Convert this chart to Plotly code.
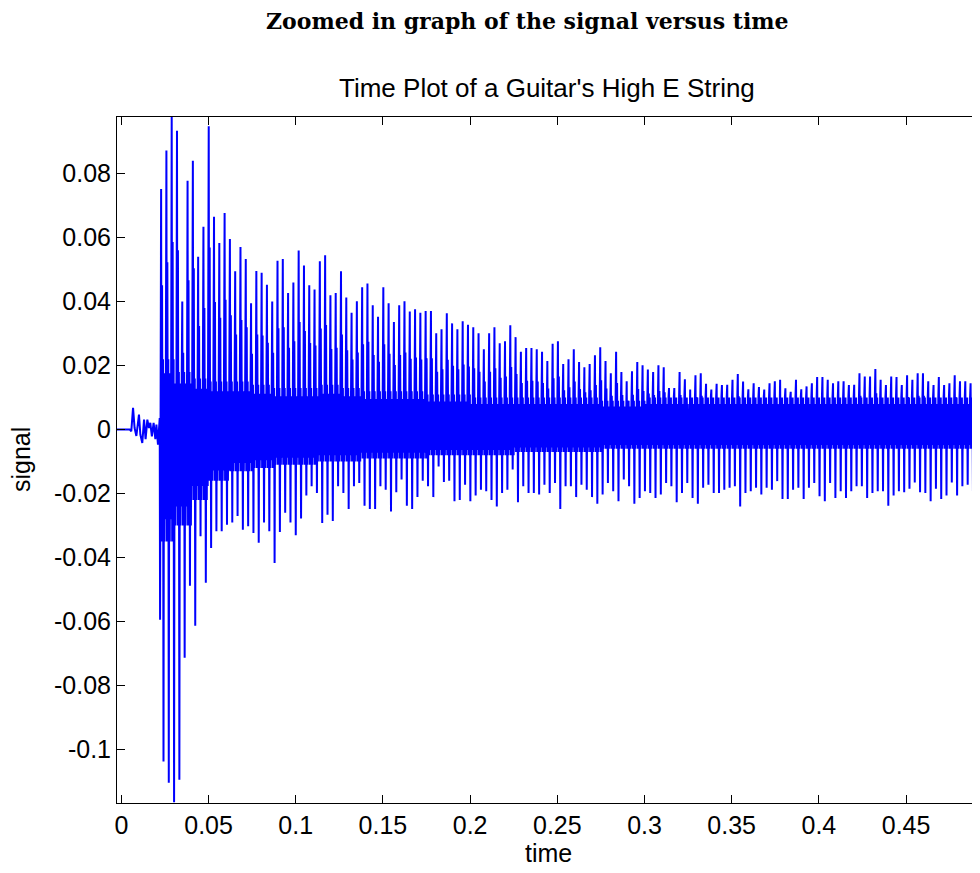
import plotly.graph_objects as go

# ---------------- data ----------------
# quiet lead-in before the pluck (time in s, signal)
onset_t = [-0.0025, 0.0048, 0.0057, 0.0067, 0.0076, 0.0086, 0.0101, 0.0109, 0.0120,
           0.0130, 0.0139, 0.0149, 0.0158, 0.0166, 0.0175, 0.0185, 0.0195, 0.0201,
           0.0210, 0.0220, 0.0222]
onset_y = [0.0, 0.0, -0.0005, 0.0068, 0.0005, -0.0020, 0.0047, -0.0016, -0.0042,
           0.0031, -0.0030, 0.0031, 0.0005, 0.0021, -0.0021, 0.0021, -0.0030, 0.0016,
           -0.0047, 0.0036, -0.0594]

# start of the plucked part and fundamental period of the high E string (~329.6 Hz)
attack_t = 0.0228
period = 0.003034

# positive peak of each period
top_peaks = [
    0.0752, 0.0872, 0.0977, 0.0934, 0.0400, 0.0778, 0.0840, 0.0540, 0.0634, 0.0948,
    0.0665, 0.0583, 0.0677, 0.0596, 0.0495, 0.0571, 0.0533, 0.0395, 0.0496, 0.0490,
    0.0453, 0.0400, 0.0528, 0.0533, 0.0427, 0.0460, 0.0560,
    0.0513, 0.0451, 0.0438, 0.0526, 0.0545, 0.0420, 0.0427, 0.0495, 0.0413, 0.0365,
    0.0401, 0.0445, 0.0457, 0.0389, 0.0353, 0.0445, 0.0395, 0.0336, 0.0389, 0.0401,
    0.0369, 0.0376, 0.0365, 0.0371, 0.0371, 0.0301, 0.0314, 0.0364, 0.0332, 0.0314,
    0.0339, 0.0328, 0.0320, 0.0301, 0.0251, 0.0301, 0.0320, 0.0270, 0.0276, 0.0326,
    0.0289, 0.0243,
    0.0255, 0.0255, 0.0251, 0.0243, 0.0214, 0.0268, 0.0276, 0.0205, 0.0220, 0.0251,
    0.0211, 0.0195, 0.0205, 0.0232, 0.0257, 0.0214, 0.0176, 0.0243, 0.0180, 0.0151,
    0.0182, 0.0211, 0.0201, 0.0188, 0.0180, 0.0201, 0.0195, 0.0130, 0.0130, 0.0180,
    0.0157, 0.0125, 0.0170, 0.0176, 0.0143, 0.0125, 0.0143, 0.0139, 0.0140, 0.0156,
    0.0174,
    0.0150, 0.0126, 0.0145, 0.0133, 0.0125, 0.0145, 0.0151, 0.0156, 0.0129, 0.0118,
    0.0156, 0.0126, 0.0135, 0.0145, 0.0164, 0.0164, 0.0156, 0.0145, 0.0151, 0.0151,
    0.0139, 0.0140, 0.0176, 0.0166, 0.0166, 0.0189, 0.0156, 0.0139, 0.0166, 0.0164,
    0.0139, 0.0170, 0.0156, 0.0176, 0.0176, 0.0151, 0.0139, 0.0164, 0.0139, 0.0145,
    0.0170, 0.0151, 0.0151, 0.0145, 0.0166, 0.0145,
]

# negative peak of each period
bottom_peaks = [
    -0.1037, -0.1104, -0.1165, -0.1094, -0.0713, -0.0488, -0.0613, -0.0333, -0.0479, -0.0370,
    -0.0318, -0.0318, -0.0297, -0.0290, -0.0270, -0.0313, -0.0302, -0.0323, -0.0354, -0.0290,
    -0.0318, -0.0417, -0.0320, -0.0260, -0.0290, -0.0330,
    -0.0278, -0.0206, -0.0177, -0.0198, -0.0292, -0.0266, -0.0286, -0.0177, -0.0198, -0.0248,
    -0.0177, -0.0167, -0.0238, -0.0248, -0.0248, -0.0177, -0.0188, -0.0256, -0.0196, -0.0156,
    -0.0238, -0.0248, -0.0211, -0.0160, -0.0177, -0.0211, -0.0115, -0.0164, -0.0160, -0.0224,
    -0.0220, -0.0172, -0.0224, -0.0206, -0.0188, -0.0193, -0.0220, -0.0240, -0.0198, -0.0188,
    -0.0125, -0.0227,
    -0.0177, -0.0198, -0.0198, -0.0203, -0.0172, -0.0198, -0.0167, -0.0248, -0.0177, -0.0177,
    -0.0211, -0.0172, -0.0188, -0.0211, -0.0232, -0.0203, -0.0167, -0.0193, -0.0224, -0.0156,
    -0.0177, -0.0232, -0.0214, -0.0193, -0.0198, -0.0214, -0.0203, -0.0167, -0.0177, -0.0227,
    -0.0198, -0.0167, -0.0214, -0.0232, -0.0182, -0.0172, -0.0198, -0.0198, -0.0188, -0.0182,
    -0.0177, -0.0240,
    -0.0198, -0.0193, -0.0182, -0.0203, -0.0182, -0.0188, -0.0161, -0.0217, -0.0217,
    -0.0188, -0.0182, -0.0217, -0.0182, -0.0167, -0.0208, -0.0224, -0.0167, -0.0214, -0.0193,
    -0.0214, -0.0193, -0.0177, -0.0177, -0.0214, -0.0198, -0.0193, -0.0193, -0.0238, -0.0206,
    -0.0193, -0.0196, -0.0185, -0.0165, -0.0196, -0.0198, -0.0224, -0.0185, -0.0217, -0.0206,
    -0.0165, -0.0206, -0.0177, -0.0172, -0.0193, -0.0185, -0.0208,
]

# dense middle band of the decaying tone (start time of each stretch, upper / lower edge)
band_start = [0.000, 0.030, 0.040, 0.050, 0.0625, 0.075, 0.0875, 0.100, 0.1125, 0.125,
              0.1375, 0.150, 0.175, 0.200, 0.225, 0.250, 0.275, 0.300, 0.350, 0.400]
band_hi = [0.022, 0.018, 0.016, 0.015, 0.015, 0.014, 0.013, 0.013, 0.014, 0.013,
           0.012, 0.012, 0.011, 0.010, 0.010, 0.010, 0.009, 0.010, 0.010, 0.010]
band_lo = [-0.035, -0.030, -0.022, -0.016, -0.013, -0.012, -0.011, -0.011, -0.010, -0.010,
           -0.009, -0.009, -0.008, -0.008, -0.007, -0.007, -0.006, -0.006, -0.006, -0.006]

x_tick_vals = [0, 0.05, 0.1, 0.15, 0.2, 0.25, 0.3, 0.35, 0.4, 0.45]
x_tick_text = ["0", "0.05", "0.1", "0.15", "0.2", "0.25", "0.3", "0.35", "0.4", "0.45"]
y_tick_vals = [-0.1, -0.08, -0.06, -0.04, -0.02, 0, 0.02, 0.04, 0.06, 0.08]
y_tick_text = ["-0.1", "-0.08", "-0.06", "-0.04", "-0.02", "0", "0.02", "0.04", "0.06", "0.08"]

# ---------------- assemble the waveform ----------------
# one period as seen in the picture: sharp positive peak with a smaller echo,
# ringing band, sharp negative peak, ringing band
# (kind, position in period, share of the peak / band edge)
cycle_shape = [("top", 0.00, 1.0), ("lo", 0.09, 1.0), ("top", 0.18, 0.6), ("lo", 0.27, 0.6),
               ("hi", 0.36, 1.0), ("bottom", 0.45, 1.0), ("hi", 0.54, 0.8), ("lo", 0.63, 1.0),
               ("hi", 0.72, 0.5), ("lo", 0.81, 0.8), ("hi", 0.90, 1.0)]


def band_index(t):
    idx = 0
    for i, s in enumerate(band_start):
        if t >= s:
            idx = i
    return idx


ts = list(onset_t)
ys = list(onset_y)
n_cycles = min(len(top_peaks), len(bottom_peaks))
for k in range(n_cycles):
    base = attack_t + k * period
    for kind, frac, share in cycle_shape:
        t = base + frac * period
        b = band_index(t)
        if kind == "top":
            v = top_peaks[k] * share
        elif kind == "bottom":
            v = bottom_peaks[k] * share
        elif kind == "hi":
            v = band_hi[b] * share
        else:
            v = band_lo[b] * share
        ts.append(t)
        ys.append(v)

fig = go.Figure()
fig.add_trace(go.Scatter(x=ts, y=ys, mode="lines",
                         line=dict(color="#0000ff", width=2),
                         hoverinfo="skip", showlegend=False))

font_sans = "Liberation Sans, Arial, Helvetica, sans-serif"
axis_common = dict(
    showgrid=False, zeroline=False, showline=True, linecolor="#000", linewidth=1,
    mirror="ticks", ticks="inside", ticklen=8, tickcolor="#000", tickwidth=1,
    tickfont=dict(family=font_sans, size=25, color="#000"),
)

# the page adds an 8 px body margin, so the figure is 8 px smaller and margins shifted
fig.update_layout(
    width=972, height=865,
    margin=dict(l=109, r=0, t=109, b=70),
    paper_bgcolor="white", plot_bgcolor="white",
    xaxis=dict(range=[-0.0025, 0.4924], tickvals=x_tick_vals, ticktext=x_tick_text,
               ticklabelstandoff=0, **axis_common),
    yaxis=dict(range=[-0.1167, 0.0977], tickvals=y_tick_vals, ticktext=y_tick_text,
               ticklabelstandoff=0, **axis_common),
    annotations=[
        dict(text="<b>Zoomed in graph of the signal versus time</b>", xref="paper", yref="paper",
             x=(527 - 117) / 863, y=1 + 96 / 686, xanchor="center", yanchor="middle",
             showarrow=False, font=dict(family="DejaVu Serif, serif", size=22, color="#000")),
        dict(text="Time Plot of a Guitar's High E String", xref="paper", yref="paper",
             x=(547 - 117) / 863, y=1 + 29 / 686, xanchor="center", yanchor="middle",
             showarrow=False, font=dict(family=font_sans, size=26, color="#000")),
        dict(text="time", xref="paper", yref="paper",
             x=(548 - 117) / 863, y=-(853 - 803) / 686, xanchor="center", yanchor="middle",
             showarrow=False, font=dict(family=font_sans, size=25, color="#000")),
        dict(text="signal", xref="paper", yref="paper", textangle=-90,
             x=-(117 - 21) / 863, y=(803 - 460) / 686, xanchor="center", yanchor="middle",
             showarrow=False, font=dict(family=font_sans, size=25, color="#000")),
    ],
)

fig.write_html("out.html")
